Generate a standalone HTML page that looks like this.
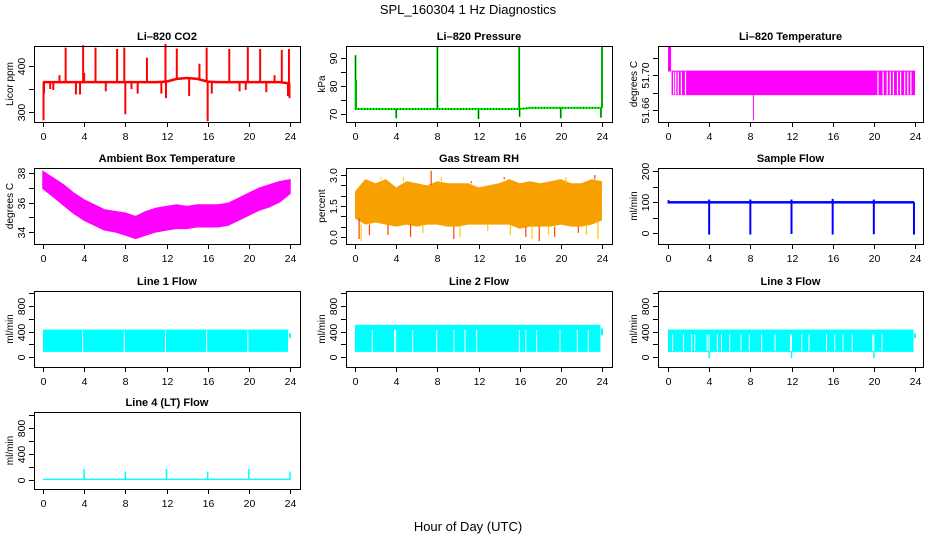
<!DOCTYPE html>
<html><head><meta charset="utf-8"><style>
html,body{margin:0;padding:0;background:#fff}
svg{display:block}
text{font-family:"Liberation Sans",Arial,sans-serif}
</style></head><body>
<svg id="c" width="936" height="540" viewBox="0 0 936 540" xmlns="http://www.w3.org/2000/svg">
<text x="468" y="14" font-size="13" text-anchor="middle">SPL_160304  1 Hz Diagnostics</text>
<text x="468" y="531" font-size="13" text-anchor="middle">Hour of Day (UTC)</text>
</svg>
<script>
// ---- data arrays ----
const hourTicks = [0,4,8,12,16,20,24];
const hours = [0,1,2,3,4,5,6,7,8,9,10,11,12,13,14,15,16,17,18,19,20,21,22,23,24];

// CO2
const co2Base = [365,365,365,365,365,365,365,365,365,365,365,365,366,372,374,372,366,365,365,365,365,365,365,365,362];
const co2SpikeHours = [0.05,0.1,1.6,2.2,3.9,4.0,5.1,7.2,7.9,8.0,10.1,11.9,11.95,13.0,15.2,15.9,16.0,18.1,19.9,21.1,22.5,23.2,23.9,23.95,0.7,1.0,3.2,3.6,6.1,8.6,9.2,11.5,14.2,16.4,19.1,19.7,21.7,23.8];
const co2SpikeVals  = [282,340,380,440,445,385,440,437,440,295,418,448,330,438,405,440,280,437,441,437,380,435,437,330,350,348,338,338,345,350,340,340,335,340,345,348,343,335];

// Pressure
const presBase = [71.8,71.8,71.8,71.8,71.8,71.8,71.8,71.8,71.8,71.8,71.8,71.8,71.8,71.8,71.8,71.8,71.8,72.2,72.2,72.2,72.2,72.2,72.2,72.2,72.2];
const presSpikeHours = [0.05,0.1,4.0,8.0,12.0,15.95,16.0,20.0,23.9,24.0];
const presSpikeVals  = [91,82,68.5,94,68.2,94,69,68.5,68.7,94];

// Li-820 temperature
const ltempBandStart = [0.0, 0.35];
const ltempBandEnd   = [0.3, 24.0];
const ltempBandHigh  = [51.732, 51.705];
const ltempBandLow   = [51.704, 51.677];
const ltempGapHours = [0.55,0.75,1.0,1.3,1.7,20.4,20.9,21.3,21.6,21.9,22.3,22.6,23.0,23.3,23.6];
const ltempSpikeHour = [8.3];
const ltempSpikeVal  = [51.648];

// Ambient box temperature
const ambHigh = [38.09,37.64,37.19,36.62,36.17,35.83,35.49,35.38,35.27,35.04,35.38,35.6,35.72,35.83,35.72,35.83,35.83,35.83,35.94,36.28,36.62,36.96,37.19,37.41,37.53];
const ambLow  = [36.96,36.40,35.83,35.27,34.81,34.47,34.14,34.02,33.80,33.57,33.80,34.02,34.14,34.25,34.25,34.36,34.36,34.36,34.47,34.81,35.15,35.49,35.72,36.05,36.62];

// Gas stream RH
const rhHigh = [2.2,2.8,2.6,2.8,2.4,2.7,2.6,2.5,2.7,2.6,2.6,2.6,2.4,2.5,2.6,2.8,2.6,2.7,2.6,2.7,2.8,2.6,2.6,2.8,2.7];
const rhLow  = [0.9,0.6,0.7,0.6,0.5,0.6,0.5,0.6,0.6,0.5,0.5,0.6,0.6,0.6,0.6,0.6,0.4,0.5,0.5,0.5,0.6,0.5,0.5,0.6,0.8];
const rhSpikeHours = [0.4,0.6,1.4,2.5,3.2,4.7,5.4,6.6,7.4,8.4,9.6,10.2,11.3,12.9,14.5,15.1,16.6,17.2,17.9,18.8,19.4,20.5,21.7,22.5,23.3,23.6];
const rhSpikeVals  = [-0.1,-0.2,0.1,2.9,0.1,2.9,0.0,0.2,3.2,2.9,-0.1,0.0,2.7,0.3,2.9,0.1,0.0,-0.1,-0.2,0.1,0.0,2.9,0.2,0.1,3.0,-0.1];

// Sample flow
const sfBand = [95,103];
const sfSpikeHours = [4.0,8.0,12.0,16.0,20.0,23.9,0.05];
const sfSpikeLow   = [-5,-5,-3,-5,-4,-5,95];
const sfSpikeHigh  = [108,108,108,110,108,100,106];

// Line 1 flow
const l1Band = [80,430];
const l1GapHours = [3.85,7.9,11.9,15.9,19.9,23.85];
const l1TailHour = [24.0];
const l1TailVals = [300,370];

// Line 2 flow
const l2Band = [80,505];
const l2GapHours = [1.68,3.85,3.95,5.6,7.94,9.62,10.69,11.82,15.97,16.6,17.65,19.92,21.6,22.67];
const l2GapTop = 425;
const l2TailVals = [340,450];

// Line 3 flow
const l3Band = [80,430];
const l3GapHours = [0.45,1.5,2.3,2.6,3.8,4.0,4.8,5.2,6.0,7.1,7.9,9.1,10.4,11.9,12.0,13.0,13.7,15.4,16.2,17.0,17.9,19.9,20.0,20.8];
const l3DipHours = [4.0,12.0,20.0];
const l3DipVals  = [-20,-15,-15];
const l3TailVals = [300,370];

// Line 4 flow
const l4Band = [0,20];
const l4SpikeHours = [4.0,8.0,12.0,16.0,20.0,24.0];
const l4SpikeVals  = [170,130,170,130,170,130];

// ---- drawing ----
const svg = document.getElementById('c');
const NS = 'http://www.w3.org/2000/svg';
function mk(tag, attrs){ const e=document.createElementNS(NS,tag); for(const k in attrs) e.setAttribute(k,attrs[k]); return e; }

function makePanel(o){
  const g = mk('g',{});
  
  
  svg.appendChild(g);
  const xs = h => o.x0 + h/24*247;
  const ys = v => o.py1 + (v - o.v1)/(o.v2 - o.v1)*(o.py2 - o.py1);
  const plot = mk('g',{});
  
  
  g.appendChild(plot);
  const t = mk('text',{x:(o.L+o.R)/2, y:o.T-6, 'font-size':11, 'font-weight':'bold','text-anchor':'middle'});
  t.textContent = o.title;
  
  
  g.appendChild(t);
  const box = mk('rect',{x:o.L+0.5,y:o.T+0.5,width:o.R-o.L,height:o.B-o.T,fill:'none',stroke:'#000','stroke-width':1});
  
  
  g.appendChild(box);
  const xa = mk('g',{});
  
  
  g.appendChild(xa);
  xa.appendChild(mk('line',{x1:xs(0),x2:xs(24),y1:o.B+0.5,y2:o.B+0.5,stroke:'#000'}));
  hourTicks.forEach(h=>{
    const x = Math.round(xs(h))+0.5;
    xa.appendChild(mk('line',{x1:x,x2:x,y1:o.B,y2:o.B+5,stroke:'#000'}));
    const tl = mk('text',{x:x,y:o.B+18,'font-size':10.5,'text-anchor':'middle'});
    tl.textContent = h;
    
    
    xa.appendChild(tl);
  });
  const ya = mk('g',{});
  
  
  g.appendChild(ya);
  o.yTicks.forEach((v,i)=>{
    const y = Math.round(ys(v))+0.5;
    ya.appendChild(mk('line',{x1:o.L-5,x2:o.L,y1:y,y2:y,stroke:'#000'}));
    if(o.yLabels[i]!==''){
      const tl = mk('text',{x:o.L-9,y:y,'font-size':10.5,'text-anchor':'middle',transform:`rotate(-90 ${o.L-9} ${y})`});
      tl.textContent = o.yLabels[i];
      
      
      ya.appendChild(tl);
    }
  });
  const yt = Math.round(ys(o.yTicks[0])), yb = Math.round(ys(o.yTicks[o.yTicks.length-1]));
  ya.appendChild(mk('line',{x1:o.L+0.5,x2:o.L+0.5,y1:yt,y2:yb,stroke:'#000'}));
  const yl = mk('text',{x:o.L-21,y:(o.T+o.B)/2,'font-size':10,'text-anchor':'middle',transform:`rotate(-90 ${o.L-21} ${(o.T+o.B)/2})`});
  yl.textContent = o.ylab;
  
  
  g.appendChild(yl);
  return {plot, xs, ys};
}
function vline(p,x,y1,y2,color,w){ p.appendChild(mk('line',{x1:x,x2:x,y1:y1,y2:y2,stroke:color,'stroke-width':w||1})); }
function rect(p,x1,x2,y1,y2,fill){ p.appendChild(mk('rect',{x:Math.min(x1,x2),y:Math.min(y1,y2),width:Math.abs(x2-x1),height:Math.abs(y2-y1),fill:fill})); }

const C1={L:34,R:300,x0:43}, C2={L:346,R:612,x0:355}, C3={L:658,R:923,x0:668};
const R1={T:46,B:122}, R2={T:168,B:244}, R3={T:291,B:367}, R4={T:412,B:489};

{ const P = makePanel(Object.assign({name:'co2-panel',title:'Li\u2013820 CO2',ylab:'Licor ppm',v1:300,py1:112,v2:400,py2:66,yTicks:[300,350,400],yLabels:['300','','400']},C1,R1));
  const pts = hours.map((h,i)=>P.xs(h)+','+P.ys(co2Base[i])).join(' ');
  P.plot.appendChild(mk('polyline',{points:pts,fill:'none',stroke:'#ff0000','stroke-width':2.5}));
  co2SpikeHours.forEach((h,i)=>{ const b = co2Base[Math.min(24,Math.round(h))]; vline(P.plot,P.xs(h),P.ys(b),P.ys(co2SpikeVals[i]),'#ff0000',2); });
}
{ const P = makePanel(Object.assign({name:'pressure-panel',title:'Li\u2013820 Pressure',ylab:'kPa',v1:70,py1:114,v2:90,py2:58,yTicks:[70,75,80,85,90],yLabels:['70','','80','','90']},C2,R1));
  const pts = hours.map((h,i)=>P.xs(h)+','+P.ys(presBase[i])).join(' ');
  P.plot.appendChild(mk('polyline',{points:pts,fill:'none',stroke:'#00ff00','stroke-width':2}));
  P.plot.appendChild(mk('polyline',{points:pts,fill:'none',stroke:'#000','stroke-width':1,'stroke-dasharray':'1,2'}));
  presSpikeHours.forEach((h,i)=>{ const b = presBase[Math.min(24,Math.round(h))]; vline(P.plot,P.xs(h),P.ys(b),P.ys(presSpikeVals[i]),'#00ff00',2); vline(P.plot,P.xs(h),P.ys(b),P.ys(presSpikeVals[i]),'#000',0.6); });
}
{ const P = makePanel(Object.assign({name:'li820-temp-panel',title:'Li\u2013820 Temperature',ylab:'degrees C',v1:51.66,py1:110,v2:51.70,py2:75,yTicks:[51.66,51.68,51.70,51.72],yLabels:['51.66','','51.70','']},C3,R1));
  ltempBandStart.forEach((s,i)=>rect(P.plot,P.xs(s),P.xs(ltempBandEnd[i]),P.ys(ltempBandHigh[i]),P.ys(ltempBandLow[i]),'#ff00ff'));
  ltempGapHours.forEach(h=>vline(P.plot,P.xs(h),P.ys(ltempBandHigh[1])+1,P.ys(ltempBandLow[1])-0.5,'#fff',1.2));
  ltempSpikeHour.forEach((h,i)=>vline(P.plot,P.xs(h),P.ys(ltempBandLow[1]),P.ys(ltempSpikeVal[i]),'#ff00ff',1));
}
{ const P = makePanel(Object.assign({name:'ambient-temp-panel',title:'Ambient Box Temperature',ylab:'degrees C',v1:34,py1:232,v2:38,py2:173,yTicks:[34,35,36,37,38],yLabels:['34','','36','','38']},C1,R2));
  const up = hours.map((h,i)=>P.xs(h)+','+P.ys(ambHigh[i]));
  const lo = hours.map((h,i)=>P.xs(h)+','+P.ys(ambLow[i])).reverse();
  P.plot.appendChild(mk('polygon',{points:up.concat(lo).join(' '),fill:'#ff00ff',stroke:'#ff00ff','stroke-width':1.5}));
}
{ const P = makePanel(Object.assign({name:'rh-panel',title:'Gas Stream RH',ylab:'percent',v1:0,py1:237,v2:3,py2:175,yTicks:[0,0.5,1,1.5,2,2.5,3],yLabels:['0.0','','','1.5','','','3.0']},C2,R2));
  const up = hours.map((h,i)=>P.xs(h)+','+P.ys(rhHigh[i]));
  const lo = hours.map((h,i)=>P.xs(h)+','+P.ys(rhLow[i])).reverse();
  P.plot.appendChild(mk('polygon',{points:up.concat(lo).join(' '),fill:'#f7a000'}));
  rhSpikeHours.forEach((h,i)=>{ const v=rhSpikeVals[i]; const b = v>1.5? rhHigh[Math.round(h)] : rhLow[Math.round(h)]; vline(P.plot,P.xs(h),P.ys(b),P.ys(v),(i%2?'#ffcc00':'#ff4000'),1.2); });
}
{ const P = makePanel(Object.assign({name:'sample-flow-panel',title:'Sample Flow',ylab:'ml/min',v1:0,py1:233,v2:200,py2:171,yTicks:[0,50,100,150,200],yLabels:['0','','100','','200']},C3,R2));
  rect(P.plot,P.xs(0),P.xs(23.9),P.ys(sfBand[1]),P.ys(sfBand[0]),'#0000ff');
  sfSpikeHours.forEach((h,i)=>vline(P.plot,P.xs(h),P.ys(sfSpikeHigh[i]),P.ys(sfSpikeLow[i]),'#0000ff',2));
}
const flowTicks=[0,200,400,600,800,1000], flowLabels=['0','','400','','800',''];
{ const P = makePanel(Object.assign({name:'line1-flow-panel',title:'Line 1 Flow',ylab:'ml/min',v1:0,py1:357,v2:800,py2:306,yTicks:flowTicks,yLabels:flowLabels},C1,R3));
  rect(P.plot,P.xs(0),P.xs(23.85),P.ys(l1Band[1]),P.ys(l1Band[0]),'#00ffff');
  l1GapHours.forEach(h=>vline(P.plot,P.xs(h),P.ys(l1Band[1])+1,P.ys(l1Band[0]),'#fff',1));
  l1TailHour.forEach(h=>vline(P.plot,P.xs(h),P.ys(l1TailVals[0]),P.ys(l1TailVals[1]),'#00ffff',2));
}
{ const P = makePanel(Object.assign({name:'line2-flow-panel',title:'Line 2 Flow',ylab:'ml/min',v1:0,py1:357,v2:800,py2:306,yTicks:flowTicks,yLabels:flowLabels},C2,R3));
  rect(P.plot,P.xs(0),P.xs(23.85),P.ys(l2Band[1]),P.ys(l2Band[0]),'#00ffff');
  l2GapHours.forEach(h=>vline(P.plot,P.xs(h),P.ys(l2GapTop),P.ys(l2Band[0]),'#fff',1));
  vline(P.plot,P.xs(24),P.ys(l2TailVals[0]),P.ys(l2TailVals[1]),'#00ffff',2);
}
{ const P = makePanel(Object.assign({name:'line3-flow-panel',title:'Line 3 Flow',ylab:'ml/min',v1:0,py1:357,v2:800,py2:306,yTicks:flowTicks,yLabels:flowLabels},C3,R3));
  rect(P.plot,P.xs(0),P.xs(23.85),P.ys(l3Band[1]),P.ys(l3Band[0]),'#00ffff');
  l3GapHours.forEach(h=>vline(P.plot,P.xs(h),P.ys(360),P.ys(l3Band[0])-1,'#fff',1));
  l3DipHours.forEach((h,i)=>vline(P.plot,P.xs(h),P.ys(l3Band[0]),P.ys(l3DipVals[i]),'#00ffff',1.5));
  vline(P.plot,P.xs(24),P.ys(l3TailVals[0]),P.ys(l3TailVals[1]),'#00ffff',2);
}
{ const P = makePanel(Object.assign({name:'line4-flow-panel',title:'Line 4 (LT) Flow',ylab:'ml/min',v1:0,py1:480,v2:800,py2:428,yTicks:flowTicks,yLabels:flowLabels},C1,R4));
  rect(P.plot,P.xs(0),P.xs(24),P.ys(l4Band[1]),P.ys(l4Band[0]),'#00ffff');
  l4SpikeHours.forEach((h,i)=>vline(P.plot,P.xs(h),P.ys(0),P.ys(l4SpikeVals[i]),'#00ffff',1.5));
}
</script>
</body></html>
